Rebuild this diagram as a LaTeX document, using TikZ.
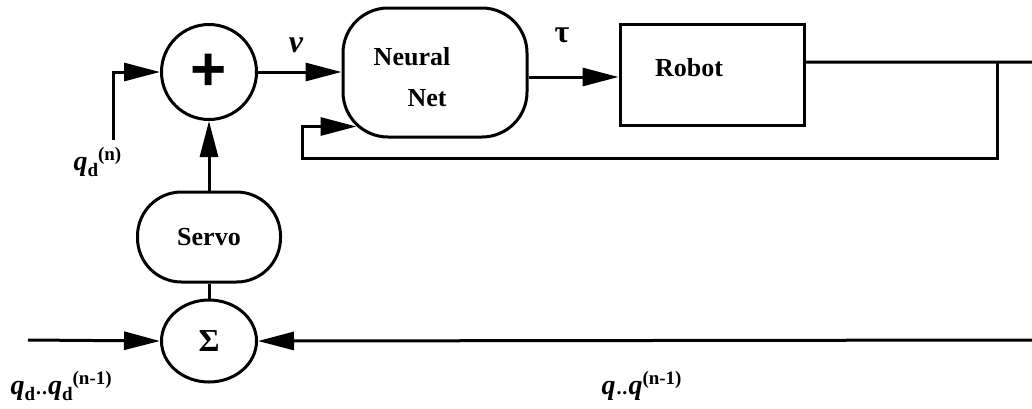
\documentclass[tikz,border=0pt]{standalone}
\usepackage{fontspec}
\setmainfont{Liberation Serif}
\setsansfont{Liberation Sans}
\usetikzlibrary{arrows.meta,shapes.geometric,calc}
% symbol pieces for the signal labels
\newcommand\qv{{\fontsize{28}{30}\selectfont\bfseries\itshape q}}
\newcommand\lo[1]{\raisebox{-6pt}{\fontsize{19}{19}\selectfont\bfseries #1}}
\newcommand\hi[1]{\raisebox{10pt}{\fontsize{19}{19}\selectfont\bfseries #1}}
\newcommand\dd{{\fontsize{20}{20}\selectfont\bfseries\kern1pt.\kern1pt.\kern1pt}}
\begin{document}
\begin{tikzpicture}[x=1pt,y=-1pt,
  line width=3pt,
  arr/.style={-{Triangle[length=36pt,width=18pt]}},
  blk/.style={draw, line width=3pt, inner sep=0pt,
    font=\fontsize{26}{30}\selectfont\bfseries},
  lbl/.style={inner sep=0pt, font=\fontsize{26}{30}\selectfont\bfseries}]
\useasboundingbox (0,0) rectangle (1032,408);

% blocks
\node[blk, circle, minimum size=95pt] (plus) at (209,72)
  {\fontsize{62}{62}\selectfont\sffamily +};
\node[blk, rounded corners=45pt, minimum width=184pt, minimum height=129pt]
  (nn) at (435,72.5) {};
\node[lbl] (nnA) at (412,57) {Neural};
\node[lbl] (nnB) at (427,98) {Net};
\node[blk, minimum width=184pt, minimum height=101pt] (robot) at (712,74.5) {};
\node[lbl] (robotT) at (689,68) {Robot};
\node[blk, rounded corners=44pt, minimum width=143pt, minimum height=90pt]
  (servo) at (209,237) {Servo};
\node[blk, ellipse, minimum width=95pt, minimum height=82pt] (sigma) at (209,341)
  {\fontsize{32}{32}\selectfont Σ};

% free ends and corners of the connectors
\coordinate (qin) at (113,140);
\coordinate (rout) at ($(robot.north east)!0.38!(robot.south east)$);
\coordinate (outR) at (1032,62);
\coordinate (jn) at (997,62);
\coordinate (fbc) at (302,158);
\coordinate (nnin) at ($(nn.south west)+(15,-12)$);
\coordinate (lin) at (28,340);
\coordinate (rin) at (1032,340);

% connectors
\draw[arr] (qin) |- (plus.west);
\draw[arr] (plus.east) -- (plus.east -| nn.west);
\draw[arr] ($(nn.east)+(0,4.5)$) -- ($(robot.west)+(0,2.5)$);
\draw (rout) -- (outR);
\draw[arr] (jn) |- (fbc) |- (nnin);
\draw[arr] (servo.north) -- (plus.south);
\draw (servo.south) -- (sigma.north);
\draw[arr] (lin) -- (sigma.west);
\draw[arr] (rin) -- (sigma.east);

% signal labels
\node[lbl, font=\fontsize{32}{34}\selectfont\bfseries] (lv) at (296,45) {\itshape v};
\node[lbl, font=\fontsize{32}{34}\selectfont\bfseries] (ltau) at (562,35) {τ};
\node[lbl, anchor=west] (lqd) at (72,162) {\qv\lo{d}\hi{(n)}};
\node[lbl, anchor=west] (lqdr) at (9,386)
  {\qv\lo{d}\dd\qv\lo{d}\hi{(n-1)}};
\node[lbl, anchor=west] (lq) at (600,386)
  {\qv\dd\qv\hi{(n-1)}};
\end{tikzpicture}
\end{document}
